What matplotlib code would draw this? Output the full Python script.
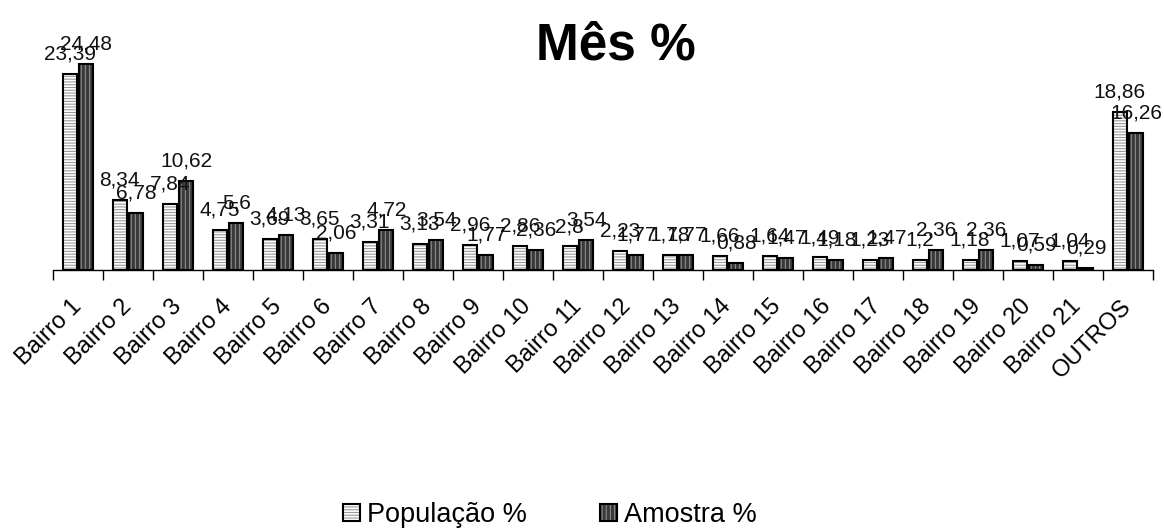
import numpy as np
import matplotlib.pyplot as plt
from matplotlib.patches import Patch

plt.rcParams['font.family'] = ['Liberation Sans', 'DejaVu Sans']
plt.rcParams['hatch.linewidth'] = 0.8

# Data
categories = ["Bairro 1", "Bairro 2", "Bairro 3", "Bairro 4", "Bairro 5", "Bairro 6",
              "Bairro 7", "Bairro 8", "Bairro 9", "Bairro 10", "Bairro 11", "Bairro 12",
              "Bairro 13", "Bairro 14", "Bairro 15", "Bairro 16", "Bairro 17", "Bairro 18",
              "Bairro 19", "Bairro 20", "Bairro 21", "OUTROS"]
populacao = [23.39, 8.34, 7.84, 4.75, 3.69, 3.65, 3.31, 3.13, 2.96, 2.86, 2.8,
             2.23, 1.78, 1.66, 1.64, 1.49, 1.23, 1.2, 1.18, 1.07, 1.04, 18.86]
amostra = [24.48, 6.78, 10.62, 5.6, 4.13, 2.06, 4.72, 3.54, 1.77, 2.36, 3.54,
           1.77, 1.77, 0.88, 1.47, 1.18, 1.47, 2.36, 2.36, 0.59, 0.29, 16.26]
series_names = ["População %", "Amostra %"]

x = np.arange(len(categories))
bar_width = 0.28
offset = 0.165

fig = plt.figure(figsize=(11.64, 5.31), dpi=100)
ax = fig.add_axes([53 / 1164, 261 / 531, 1100 / 1164, 252 / 531])

# hatched fill first, black outline on top
ax.bar(x - offset, populacao, width=bar_width, color='white', edgecolor='#9a9a9a',
       hatch='------', linewidth=0)
ax.bar(x - offset, populacao, width=bar_width, fill=False, edgecolor='black', linewidth=1.5)
ax.bar(x + offset, amostra, width=bar_width, color='#3a3a3a', edgecolor='#8a8a8a',
       hatch='||||', linewidth=0)
ax.bar(x + offset, amostra, width=bar_width, fill=False, edgecolor='black', linewidth=1.5)

# value labels with decimal comma
for xs, vals in ((x - offset, populacao), (x + offset, amostra)):
    for xi, v in zip(xs, vals):
        ax.annotate(str(v).replace('.', ','), (xi, v), xytext=(0, 10.4),
                    textcoords='offset points', ha='center', va='baseline',
                    fontsize=15, color='#111111')

ax.set_xlim(-0.5, len(categories) - 0.5)
ax.set_ylim(0, 30)
ax.set_xticks(x)
ax.set_xticklabels(categories, rotation=45, ha='right', va='center',
                   rotation_mode='anchor', fontsize=17)
ax.set_xticks(np.arange(-0.5, len(categories), 1), minor=True)
ax.tick_params(axis='x', which='major', length=0, pad=24)
ax.tick_params(axis='x', which='minor', length=7, width=1, color='black')
ax.set_yticks([])
for side in ('top', 'right', 'left'):
    ax.spines[side].set_visible(False)
ax.spines['bottom'].set_linewidth(1.0)

fig.text(616 / 1164, 1 - 60 / 531, "Mês %", ha='center', va='baseline',
         fontsize=37, fontweight='bold')

# legend with the same two-layer swatches
h_pop = (Patch(facecolor='white', edgecolor='#9a9a9a', hatch='------', linewidth=0),
         Patch(fill=False, edgecolor='black', linewidth=1.5))
h_amo = (Patch(facecolor='#3a3a3a', edgecolor='#8a8a8a', hatch='||||', linewidth=0),
         Patch(fill=False, edgecolor='black', linewidth=1.5))
fig.legend([h_pop, h_amo], series_names, loc='center',
           bbox_to_anchor=(550 / 1164, 1 - 515 / 531), ncol=2, frameon=False,
           fontsize=19.5, handlelength=0.63, handleheight=0.63, handletextpad=0.26,
           columnspacing=2.7, borderpad=0)

fig.savefig("out.png", dpi=100)
